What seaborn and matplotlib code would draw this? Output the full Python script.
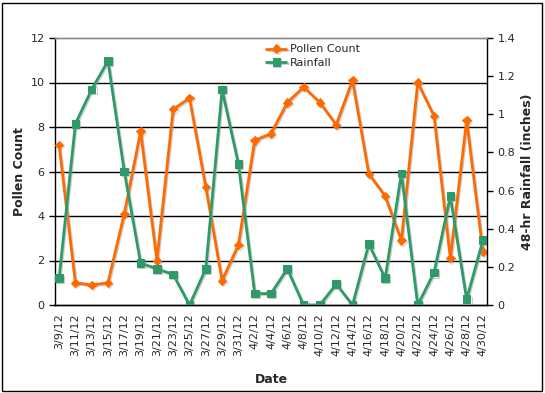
import matplotlib
matplotlib.use("Agg")
import matplotlib.pyplot as plt
import matplotlib.patheffects as pe
import seaborn as sns
import pandas as pd
import numpy as np

dates = ["3/9/12", "3/11/12", "3/13/12", "3/15/12", "3/17/12", "3/19/12", "3/21/12",
         "3/23/12", "3/25/12", "3/27/12", "3/29/12", "3/31/12", "4/2/12", "4/4/12",
         "4/6/12", "4/8/12", "4/10/12", "4/12/12", "4/14/12", "4/16/12", "4/18/12",
         "4/20/12", "4/22/12", "4/24/12", "4/26/12", "4/28/12", "4/30/12"]
pollen = [7.2, 1.0, 0.9, 1.0, 4.1, 7.8, 2.0, 8.8, 9.3, 5.3, 1.1, 2.7, 7.4, 7.7,
          9.1, 9.8, 9.1, 8.1, 10.1, 5.9, 4.9, 2.9, 10.0, 8.5, 2.1, 8.3, 2.4]
rainfall = [0.14, 0.95, 1.13, 1.28, 0.70, 0.22, 0.19, 0.16, 0.0, 0.19, 1.13, 0.74,
            0.06, 0.06, 0.19, 0.0, 0.0, 0.11, 0.0, 0.32, 0.14, 0.69, 0.0, 0.17,
            0.57, 0.03, 0.34]

day = pd.to_datetime(dates, format="%m/%d/%y")
days = (day - day[0]).days.values
df = pd.DataFrame({"day": days, "pollen": pollen, "rain": rainfall})

sns.set_style("white")
plt.rcParams["font.family"] = ["DejaVu Sans"]

orange = "#FF6A00"
green = "#2E9A68"
shadow = [pe.SimpleLineShadow(offset=(0.8, -0.8), shadow_color="#999999", alpha=0.5), pe.Normal()]

fig = plt.figure(figsize=(5.45, 3.93), dpi=100)
fig.patch.set_facecolor("white")
ax = fig.add_axes([55/545, 1-305/393, (487-55)/545, (305-38)/393])
ax2 = ax.twinx()

# gridlines for left axis
for v in [2, 4, 6, 8, 10]:
    ax.axhline(v, color="black", lw=1.0, zorder=0)

sns.lineplot(data=df, x="day", y="pollen", ax=ax, color=orange, lw=2.0,
             marker="D", markersize=4.3, markeredgecolor=orange, label="Pollen Count",
             legend=False, path_effects=shadow, zorder=3)
sns.lineplot(data=df, x="day", y="rain", ax=ax2, color=green, lw=2.0,
             marker="s", markersize=5.5, markeredgecolor=green, label="Rainfall",
             legend=False, path_effects=shadow, zorder=3)

ax.set_xlim(-0.5, days[-1] + 0.5)
ax.set_ylim(0, 12)
ax2.set_ylim(0, 1.4)
ax.set_yticks(np.arange(0, 13, 2))
ax2.set_yticks(np.arange(0, 1.41, 0.2))
ax2.set_yticklabels(["0", "0.2", "0.4", "0.6", "0.8", "1", "1.2", "1.4"])

ax.set_xticks(days)
ax.set_xticklabels(dates, rotation=90)
ax.set_xticks(np.append(days - 0.5, days[-1] + 0.5), minor=True)
ax.tick_params(axis="x", which="major", length=0, pad=6, labelsize=8)
ax.tick_params(axis="x", which="minor", length=4, width=1, color="black", direction="out")
ax.tick_params(axis="y", length=4, width=1, color="black", direction="out", labelsize=8, left=True)
ax2.tick_params(axis="y", length=4, width=1, color="black", direction="out", labelsize=8, right=True)

for a in (ax, ax2):
    for s in ["left", "right", "bottom"]:
        a.spines[s].set_color("black")
        a.spines[s].set_linewidth(1.0)
    a.spines["top"].set_color("#888888")
    a.spines["top"].set_linewidth(1.0)
ax.spines["right"].set_visible(False)
ax2.spines["left"].set_visible(False)

ax.set_xlabel("Date", fontsize=9, fontweight="bold", labelpad=12)
ax.set_ylabel("Pollen Count", fontsize=9, fontweight="bold", labelpad=3)
ax2.set_ylabel("48-hr Rainfall (inches)", fontsize=9, fontweight="bold", labelpad=4)

h1, l1 = ax.get_legend_handles_labels()
h2, l2 = ax2.get_legend_handles_labels()
leg = ax2.legend(h1 + h2, l1 + l2, loc="upper left", bbox_to_anchor=(262/545, 1-40/393),
                 bbox_transform=fig.transFigure, frameon=False, fontsize=8,
                 handlelength=1.8, handletextpad=0.3, labelspacing=0.3, borderaxespad=0)

fig.add_artist(plt.Rectangle((2/545, 2/393), 540/545, 388/393, transform=fig.transFigure,
                             fill=False, edgecolor="black", lw=1.0))

fig.savefig("out.png", dpi=100)
